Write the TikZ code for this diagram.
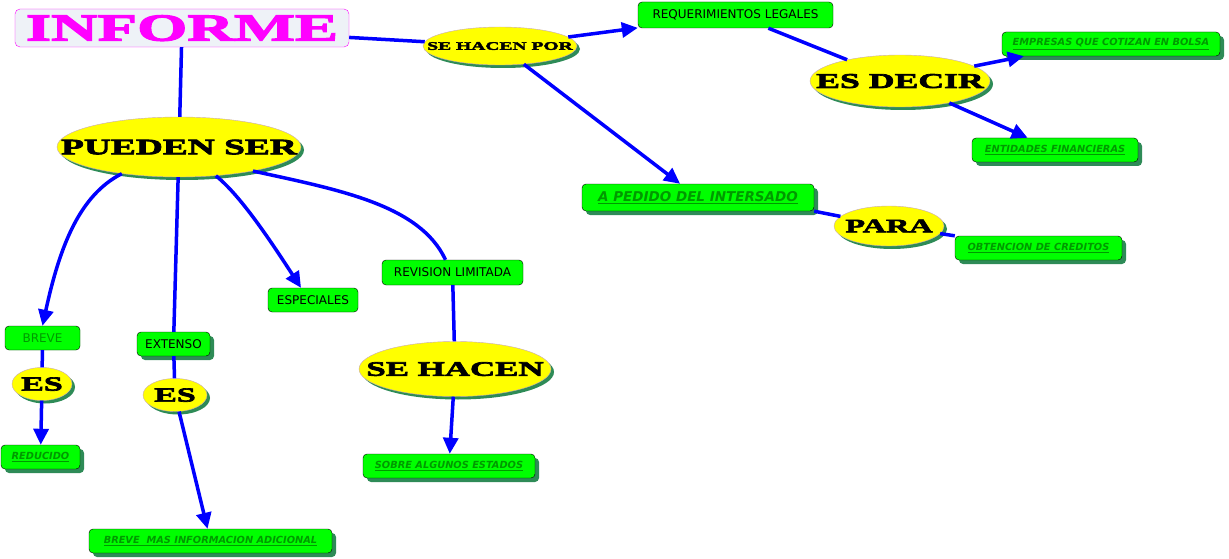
\documentclass[tikz,border=0pt]{standalone}
\usepackage{fontspec}
\usepackage{tikz}
\setmainfont{DejaVu Sans}
\newfontfamily\widefont[FakeStretch=1.7,FakeBold=3.5]{Liberation Serif}
\usetikzlibrary{arrows.meta,positioning,shapes.geometric,shadows}
\definecolor{linkblue}{HTML}{0000FF}
\definecolor{boxgreen}{HTML}{00FF00}
\definecolor{shadegreen}{HTML}{2E8B57}
\definecolor{textgreen}{HTML}{009900}
\definecolor{titlepink}{HTML}{FF00FF}
\definecolor{titlefill}{HTML}{EEF2F7}
\definecolor{ovalrim}{HTML}{C8A8B8}
\definecolor{ovalfill}{HTML}{FFFF00}
\newcommand{\heavy}[2]{{\widefont\bfseries\fontsize{#1}{#1}\selectfont
  \makebox[0pt]{\smash{\raisebox{-0.33em}{#2}}}}}
\newcommand{\linklabel}[1]{\underline{\textbf{\textit{#1}}}}

\begin{document}
\begin{tikzpicture}[
  x=1pt, y=-1pt,
  concept/.style={draw=black, rounded corners=4pt, fill=boxgreen, inner sep=2pt,
                  minimum height=24pt, font=\fontsize{12}{14}\selectfont},
  conceptsh/.style={concept, drop shadow={shadow xshift=4pt, shadow yshift=-4pt,
                    fill=shadegreen, opacity=1}},
  link/.style={conceptsh, text=textgreen, font=\fontsize{9.8}{12}\selectfont},
  linker/.style={ellipse, draw=ovalrim, fill=ovalfill, inner sep=0pt,
                 drop shadow={shadow xshift=3pt, shadow yshift=-3pt,
                 fill=shadegreen, opacity=1}},
  conn/.style={draw=linkblue, line width=3.5pt},
  arrow/.style={conn, -{Triangle[length=16pt,width=15pt]}}
]
  \useasboundingbox (0,0) rectangle (1229,559);

  \node[draw=titlepink, fill=titlefill, rounded corners=5pt, minimum width=334pt,
        minimum height=38pt, text=titlepink] (informe) at (182,28) {\heavy{38}{INFORME}};
  \node[linker, minimum width=154pt, minimum height=38pt] (hacenpor) at (500,46) {\heavy{11.5}{SE HACEN POR}};
  \node[concept, minimum width=195pt, minimum height=26pt] (requer) at (735.5,15) {REQUERIMIENTOS LEGALES};
  \node[linker, minimum width=180pt, minimum height=52pt] (esdecir) at (900,81) {\heavy{21}{ES DECIR}};
  \node[link, minimum width=218pt] (empresas) at (1111,44) {\linklabel{EMPRESAS QUE COTIZAN EN BOLSA}};
  \node[link, minimum width=166pt] (entidades) at (1055,150) {\linklabel{ENTIDADES FINANCIERAS}};
  \node[link, minimum width=232pt, minimum height=27pt, font=\fontsize{13.5}{16}\selectfont]
        (pedido) at (698,197.5) {\linklabel{A PEDIDO DEL INTERSADO}};
  \node[linker, minimum width=110pt, minimum height=40pt] (para) at (889,226) {\heavy{19}{PARA}};
  \node[link, minimum width=167pt] (obtencion) at (1038.5,248) {\linklabel{OBTENCION DE CREDITOS}};

  \node[linker, minimum width=244pt, minimum height=60pt] (pueden) at (179,147) {\heavy{22}{PUEDEN SER}};
  \node[concept, minimum width=75pt, text=textgreen] (breve) at (42.5,338) {BREVE};
  \node[linker, minimum width=60pt, minimum height=33pt] (esbreve) at (42,384) {\heavy{20}{ES}};
  \node[link, minimum width=79pt] (reducido) at (40.5,457) {\linklabel{REDUCIDO}};
  \node[conceptsh, minimum width=73pt] (extenso) at (173.5,344) {EXTENSO};
  \node[linker, minimum width=64pt, minimum height=33pt] (esextenso) at (175,395) {\heavy{20}{ES}};
  \node[link, minimum width=243pt] (adicional) at (210.5,541) {\linklabel{BREVE\ \ MAS INFORMACION ADICIONAL}};
  \node[concept, minimum width=90pt] (especiales) at (313,300) {ESPECIALES};
  \node[concept, minimum width=141pt, minimum height=25pt] (revision) at (452.5,272.5) {REVISION LIMITADA};
  \node[linker, minimum width=192pt, minimum height=55pt] (sehacen) at (455,369) {\heavy{20.5}{SE HACEN}};
  \node[link, minimum width=172pt] (sobre) at (449,466) {\linklabel{SOBRE ALGUNOS ESTADOS}};

  \draw[conn] (informe) -- (hacenpor);
  \draw[conn] (informe) -- (pueden);
  \draw[arrow] (hacenpor) -- (requer);
  \draw[arrow] (hacenpor) -- (pedido);
  \draw[conn] (requer) -- (esdecir);
  \draw[arrow] (esdecir) -- ([xshift=22pt]empresas.south west);
  \draw[arrow] (esdecir) -- (entidades);
  \draw[conn] (pedido.south east) -- (para);
  \draw[conn] (para) -- (obtencion.north west);

  \draw[arrow] (pueden.205) .. controls (80,195) and (60,245) .. (breve.north);
  \draw[conn] (pueden) -- (extenso);
  \draw[arrow] (pueden.322) .. controls (240,195) and (270,240) .. ([xshift=-12pt]especiales.north);
  \draw[conn] (pueden.342) .. controls (340,190) and (420,205) .. ([xshift=-7pt]revision.north);
  \draw[conn] (breve) -- (esbreve);
  \draw[arrow] (esbreve) -- (reducido);
  \draw[conn] (extenso) -- (esextenso);
  \draw[arrow] (esextenso) -- (adicional);
  \draw[conn] (revision) -- (sehacen);
  \draw[arrow] (sehacen) -- (sobre);
\end{tikzpicture}
\end{document}
